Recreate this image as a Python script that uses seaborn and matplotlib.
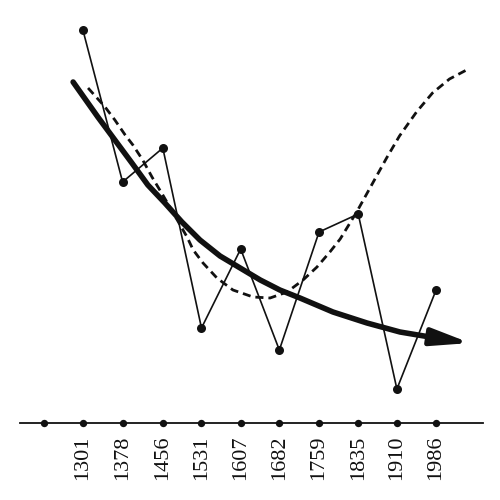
import matplotlib
matplotlib.use("Agg")
import matplotlib.pyplot as plt
import seaborn as sns
import pandas as pd

# ---- data ----
years = [1301, 1378, 1456, 1531, 1607, 1682, 1759, 1835, 1910, 1986]
values = [393, 241, 275, 95, 174, 73, 191, 209, 34, 133]
axis_dot_years = [1225, 1301, 1378, 1456, 1531, 1607, 1682, 1759, 1835, 1910, 1986]
tick_labels = ["1301", "1378", "1456", "1531", "1607", "1682", "1759", "1835", "1910", "1986"]

dashed_years = [1311, 1344, 1363, 1383, 1398, 1417, 1435, 1456, 1503, 1515, 1534,
                1561, 1592, 1631, 1664, 1697, 1728, 1755, 1780, 1800, 1832, 1861,
                1890, 1915, 1948, 1979, 2012, 2045]
dashed_values = [335, 316, 303, 288, 278, 263, 246, 228, 186, 173, 160,
                 145, 133, 126, 125, 131, 143, 156, 171, 184, 211, 238,
                 265, 287, 311, 330, 344, 353]

trend_years = [1282, 1330, 1363, 1396, 1427, 1460, 1493, 1528, 1567, 1606, 1645,
               1683, 1722, 1786, 1852, 1916, 1974]
trend_values = [341, 306, 283, 260, 238, 220, 201, 183, 167, 155, 143,
                133, 125, 111, 100, 91, 86]
arrow_tip_year = 2052
arrow_tip_value = 80

ink = "#111111"

sns.set_theme(style="white")
plt.rcParams["font.family"] = ["Liberation Serif", "DejaVu Serif"]

fig = plt.figure(figsize=(5, 5), dpi=100)
ax = fig.add_axes([0.04, 0.154, 0.926, 0.826])

df = pd.DataFrame({"year": years, "value": values})
dashed = pd.DataFrame({"year": dashed_years, "value": dashed_values})
trend = pd.DataFrame({"year": trend_years, "value": trend_values})

# dashed curve
sns.lineplot(data=dashed, x="year", y="value", ax=ax, color=ink, lw=2.0,
             linestyle=(0, (2.9, 1.8)), sort=False, legend=False)
# thick trend curve
sns.lineplot(data=trend, x="year", y="value", ax=ax, color=ink, lw=4.0,
             sort=False, legend=False, solid_capstyle="round",
             solid_joinstyle="round")
ax.annotate("", xy=(arrow_tip_year, arrow_tip_value),
            xytext=(trend_years[-1], trend_values[-1]),
            arrowprops=dict(arrowstyle="-|>,head_length=1.15,head_width=0.26",
                            mutation_scale=20, color=ink, lw=3.5,
                            shrinkA=0, shrinkB=0))
# data line with dots
sns.lineplot(data=df, x="year", y="value", ax=ax, color=ink, lw=1.2,
             marker="o", markersize=6.5, markeredgewidth=0, sort=False, legend=False)

# axis dots on the baseline
sns.scatterplot(x=axis_dot_years, y=[0] * len(axis_dot_years), ax=ax, color=ink,
                s=28, linewidth=0, clip_on=False, zorder=5)

ax.set_xlim(1179, 2077)
ax.set_ylim(0, 413)
for side in ["top", "right", "left"]:
    ax.spines[side].set_visible(False)
ax.spines["bottom"].set_color(ink)
ax.spines["bottom"].set_linewidth(1.3)
ax.set_yticks([])
ax.set_xticks(years)
ax.set_xticklabels(tick_labels, rotation=90, fontsize=16, color=ink)
ax.tick_params(axis="x", length=0, pad=9)
ax.set_xlabel("")
ax.set_ylabel("")

fig.savefig("out.png", dpi=100)
